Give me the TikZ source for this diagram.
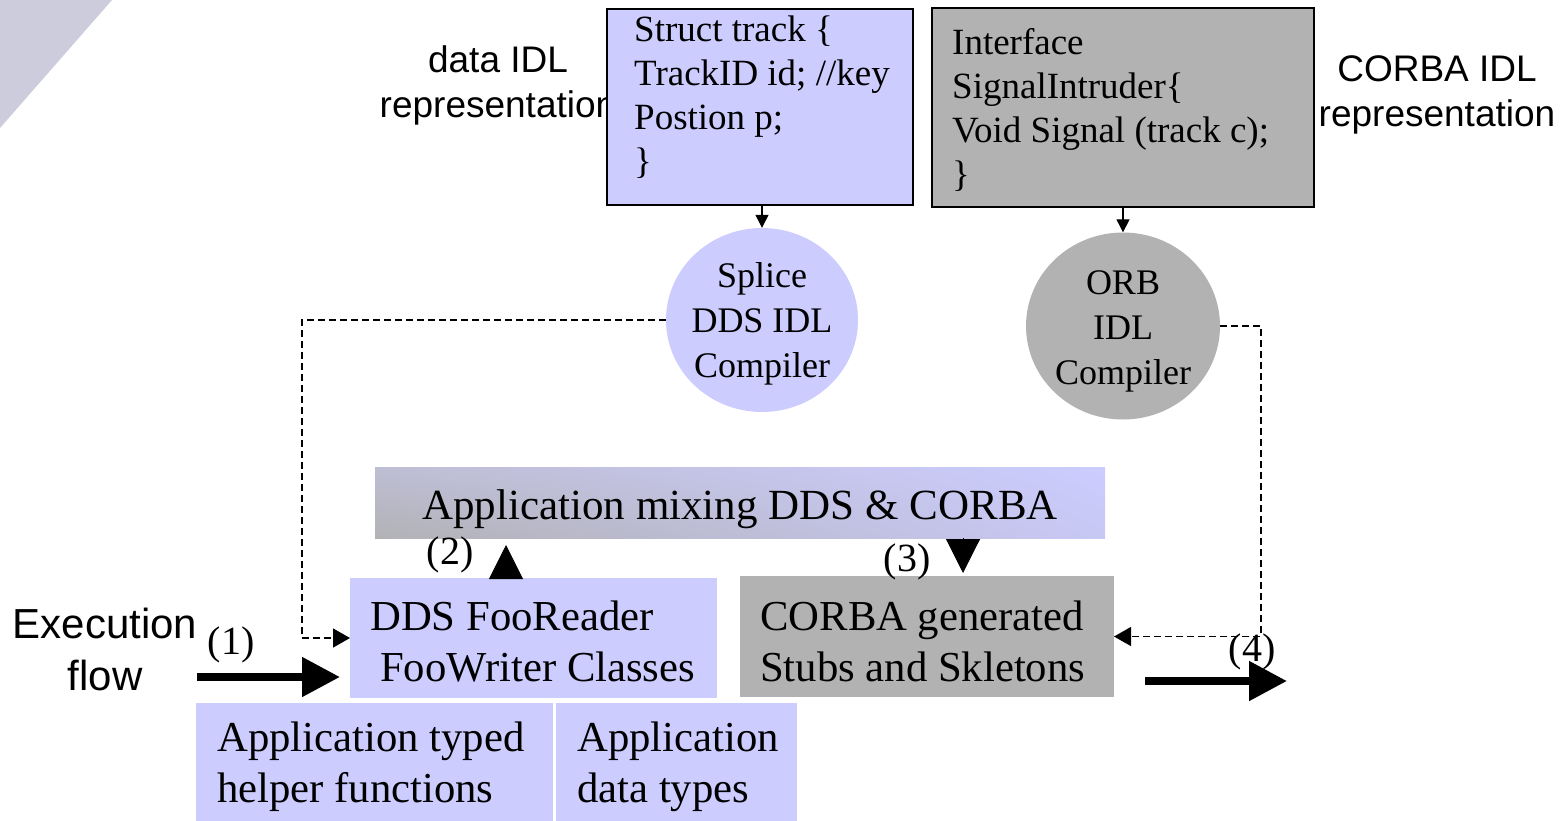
\documentclass[tikz,border=0pt]{standalone}
\usepackage{fontspec}
\setmainfont{Liberation Serif}
\newfontfamily\labelsans{Liberation Sans}
\usetikzlibrary{arrows.meta,shapes.geometric,shadings}
\definecolor{lav}{RGB}{204,204,255}
\definecolor{gry}{RGB}{178,178,178}
\definecolor{barLL}{RGB}{178,178,182}
\definecolor{barUL}{RGB}{190,190,212}
\definecolor{barLR}{RGB}{200,200,245}
\definecolor{deco}{RGB}{204,204,221}
\begin{document}
\begin{tikzpicture}[x=1pt,y=-1pt,
  box/.style={inner sep=0pt, outer sep=0pt},
  idlbox/.style={box, draw=black, line width=1.5pt},
  compiler/.style={ellipse, inner sep=0pt, align=center,
    font=\fontsize{36}{45}\selectfont},
  code/.style={anchor=west, align=left, inner sep=0pt,
    font=\fontsize{37}{44}\selectfont},
  body/.style={anchor=west, align=left, inner sep=0pt,
    font=\fontsize{42.7}{51}\selectfont},
  side/.style={align=center, inner sep=0pt,
    font=\labelsans\fontsize{37}{45}\selectfont},
  num/.style={inner sep=0pt, font=\fontsize{40}{48}\selectfont},
  feed/.style={dashed, dash pattern=on 7pt off 4pt, line width=1.3pt,
    -{Triangle[length=17pt,width=19pt]}},
  gen/.style={line width=1.3pt, -{Triangle[length=13pt,width=13pt]}},
  flow/.style={line width=8pt, -{Triangle[length=38pt,width=38pt]}},
  call/.style={line width=1pt, -{Triangle[length=34pt,width=34pt]}}
]
\useasboundingbox (0,0) rectangle (1565,820);

% corner ornament
\fill[deco] (0,0) -- (112,0) -- (0,128) -- cycle;

% side captions
\node[side] (cap1) at (498,85) {data IDL\\representation};
\node[side] (cap2) at (1437,95) {CORBA IDL\\representation};
\node[align=center, inner sep=0pt, font=\labelsans\fontsize{42}{52}\selectfont]
  (exec) at (105,649) {Execution\\flow};

% IDL sources
\node[idlbox, fill=lav, minimum width=306pt, minimum height=196pt] (src1) at (760,107) {};
\node[code] (src1t) at (634,97) {Struct track \{\\TrackID id; //key\\Postion p;\\\}};
\node[idlbox, fill=gry, minimum width=382pt, minimum height=199pt] (src2) at (1123,107.5) {};
\node[code] (src2t) at (952,110) {Interface\\SignalIntruder\{\\Void Signal (track c);\\\}};

% IDL compilers
\node[compiler, fill=lav, minimum width=192pt, minimum height=184pt] (cmp1) at (762,320) {};
\node[compiler] (cmp1t) at (762,324) {Splice\\DDS IDL\\Compiler};
\node[compiler, fill=gry, minimum width=194pt, minimum height=187pt] (cmp2) at (1123,326) {};
\node[compiler] (cmp2t) at (1123,331) {ORB\\IDL\\Compiler};

\draw[gen] (src1.south -| cmp1.north) -- (cmp1.north);
\draw[gen] (src2.south -| cmp2.north) -- (cmp2.north);

% application layer
\node[box, lower left=barLL, upper left=barUL, upper right=lav, lower right=barLR,
  minimum width=730pt, minimum height=71pt] (app) at (740,502.5) {};
\node[inner sep=0pt, font=\fontsize{43}{51}\selectfont] (appt) at (740,509) {Application mixing DDS \& CORBA};

\node[box, fill=lav, minimum width=367pt, minimum height=120pt] (dds) at (533.5,638) {};
\node[body] (ddst) at (370,641) {DDS FooReader\\\hspace*{10pt}FooWriter Classes};
\node[box, fill=gry, minimum width=374pt, minimum height=121pt] (orb) at (927,636.5) {};
\node[body] (orbt) at (760,641) {CORBA generated\\Stubs and Skletons};

\node[box, fill=lav, minimum width=357pt, minimum height=119pt] (help) at (374.5,762.5) {};
\node[body] (helpt) at (217,767) {Application typed\\helper functions};
\node[box, fill=lav, minimum width=241pt, minimum height=119pt] (types) at (676.5,762.5) {};
\node[body] (typest) at (577,767) {Application\\data types};

% generated code feeds
\coordinate (k1) at (302,0);
\coordinate (k2) at (1261,0);
\draw[feed] (cmp1.west) -- (k1 |- cmp1.west) -- (k1 |- dds.west) -- (dds.west);
\draw[feed] (cmp2.east) -- (k2 |- cmp2.east) -- (k2 |- orb.east) -- (orb.east);

% step labels
\node[num] (n1) at (231,645) {(1)};
\node[num] (n2) at (450,555) {(2)};
\node[num] (n3) at (907,562) {(3)};
\node[num] (n4) at (1252,652) {(4)};

% execution steps
\coordinate (t2) at (506,0);
\coordinate (t3) at (963,0);
\draw[call, shorten >=7pt] (t2 |- dds.north) -- (t2 |- app.south);
\draw[call, shorten >=3pt] (t3 |- app.south) -- (t3 |- orb.north);

\coordinate (f1) at (197,677);
\draw[flow, shorten >=10pt] (f1) -- (f1 -| dds.west);
\coordinate (f4a) at (1145,681);
\coordinate (f4b) at (1287,681);
\draw[flow] (f4a) -- (f4b);
\end{tikzpicture}
\end{document}
